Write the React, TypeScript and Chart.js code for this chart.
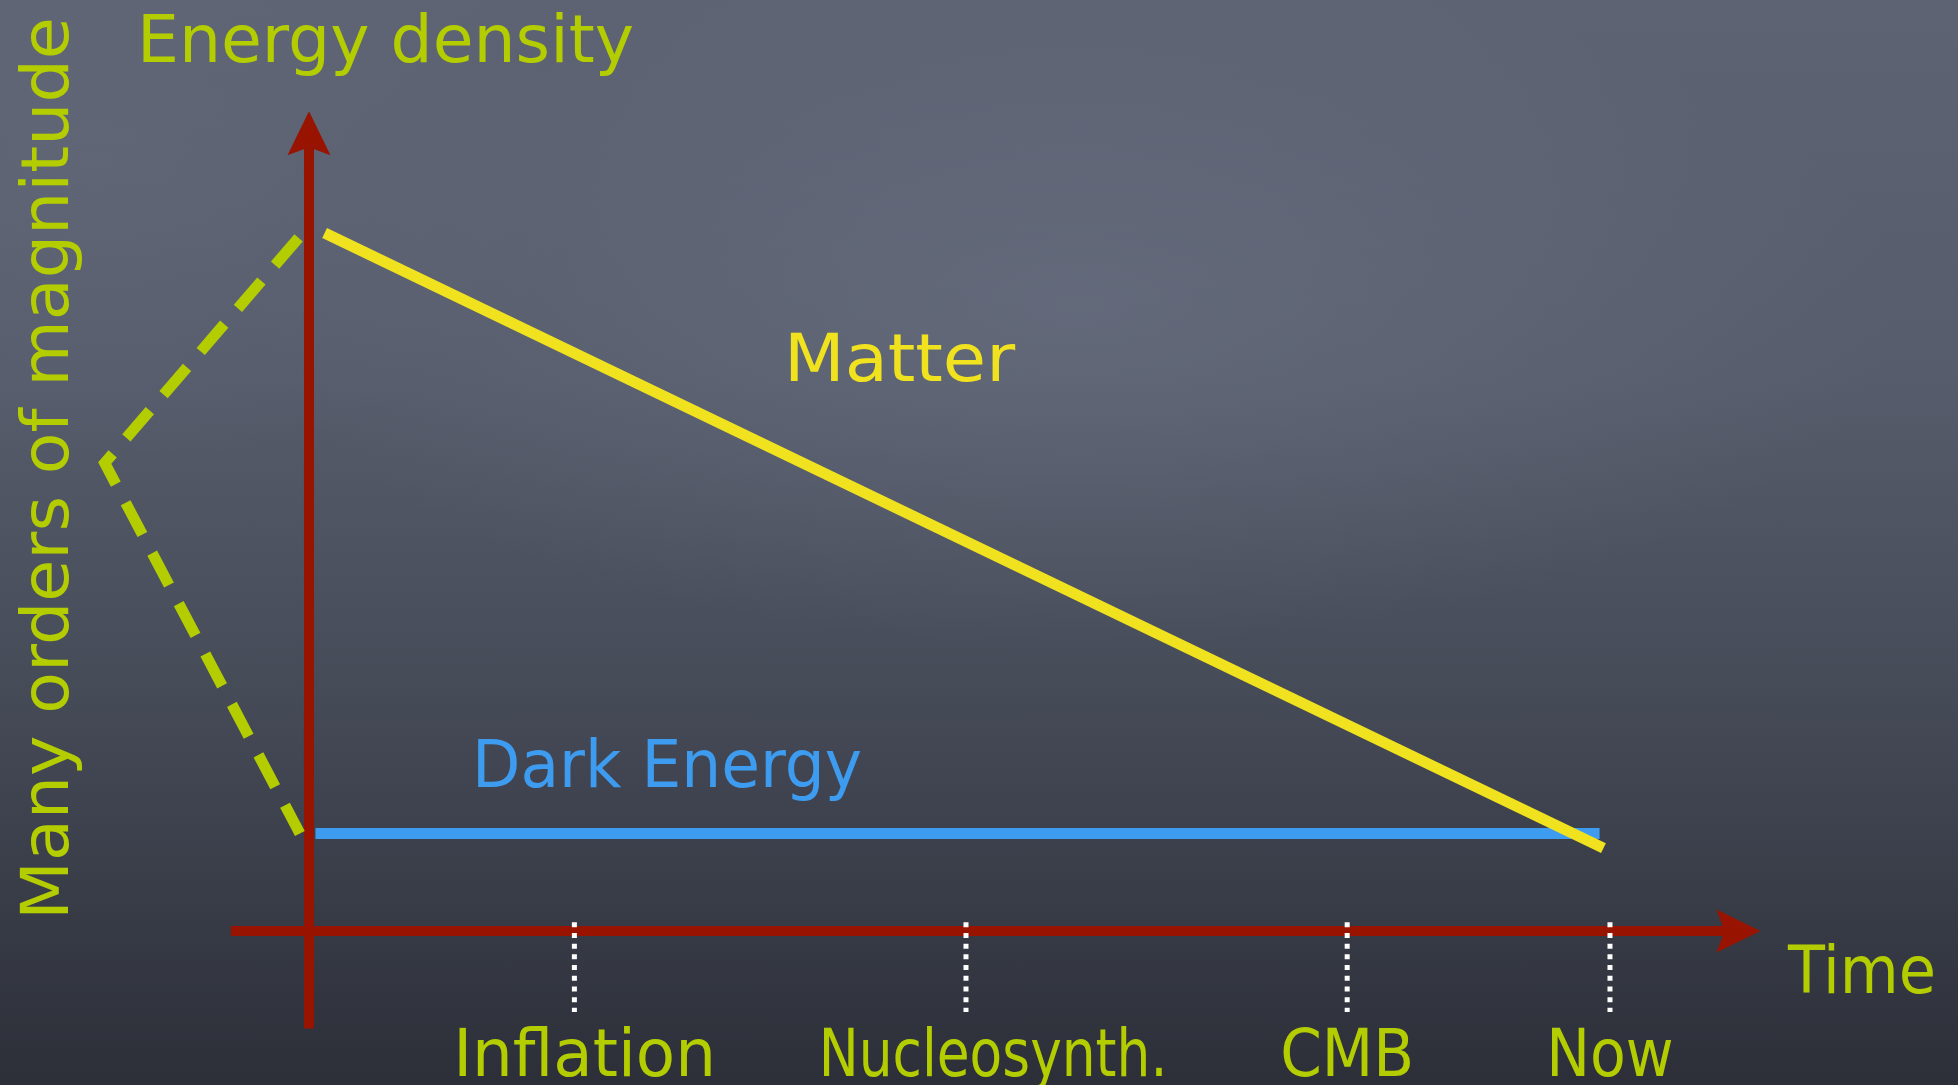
import React, { useEffect, useRef } from "react";
import { Chart, registerables } from "chart.js";

Chart.register(...registerables);

// Horizontal scale: cosmic time in arbitrary units (origin 0, "Now" = 10)
const timeRange = [-2.375, 12.675];
// Vertical scale: log energy density in arbitrary units (dark energy = 1)
const densityRange = [-1.579, 9.549];

// Epoch markers on the time axis
const epochLabels = ["Inflation", "Nucleosynth.", "CMB", "Now"];
const epochTimes = [2.04, 5.05, 7.98, 10];
const epochLabelTimes = [2.118, 5.258, 7.98, 10];
const epochMarkTop = 0.09;
const epochMarkBottom = -0.83;
const epochLabelDensity = -1.487;
const epochLabelWidths = [2.02, 2.68, 1.03, 0.98];

// Matter energy density (falls with time)
const matterTimes = [0.12, 9.95];
const matterDensity = [7.16, 0.85];

// Dark energy density (constant)
const darkEnergyTimes = [0.05, 9.92];
const darkEnergyDensity = [1, 1];

// "Many orders of magnitude" bracket
const spreadTimes = [-0.08, -1.57, -0.07];
const spreadDensity = [7.11, 4.8, 1.0];

// Axes extents
const timeAxisTimes = [-0.6, 10.88];
const densityAxisValues = [-1.0, 8.04];

const GREEN = "#b3cd00";
const YELLOW = "#f0e21e";
const BLUE = "#3d9cf0";
const RED = "#981400";
const WHITE = "#ffffff";
const FONT = '66px "DejaVu Sans"';

type Label = {
  text: string;
  x: number;
  y: number;
  size: number; // target extent in data units along the text direction
  color: string;
  align: "left" | "center";
  vertical?: boolean;
};

const textLabels: Label[] = [
  { text: "Energy density", x: -1.322, y: 8.913, size: 3.82, color: GREEN, align: "left" },
  { text: "Many orders of magnitude", x: -1.852, y: 0.113, size: 9.26, color: GREEN, align: "left", vertical: true },
  { text: "Matter", x: 3.651, y: 5.641, size: 1.776, color: YELLOW, align: "left" },
  { text: "Dark Energy", x: 1.253, y: 1.477, size: 2.998, color: BLUE, align: "left" },
  { text: "Time", x: 11.368, y: -0.636, size: 1.138, color: GREEN, align: "left" },
  ...epochLabels.map((t, i) => ({
    text: t,
    x: epochLabelTimes[i],
    y: epochLabelDensity,
    size: epochLabelWidths[i],
    color: GREEN,
    align: "center" as const,
  })),
];

const pts = (xs: number[], ys: number[]) => xs.map((x, i) => ({ x, y: ys[i] }));

const arrowPlugin = {
  id: "arrowHeads",
  afterDatasetsDraw(chart: any) {
    const ctx = chart.ctx;
    chart.data.datasets.forEach((ds: any, i: number) => {
      if (!ds.arrow) return;
      const meta = chart.getDatasetMeta(i);
      const n = meta.data.length;
      const a = meta.data[n - 2];
      const b = meta.data[n - 1];
      let dx = b.x - a.x;
      let dy = b.y - a.y;
      const len = Math.hypot(dx, dy) || 1;
      dx /= len;
      dy /= len;
      const nx = -dy;
      const ny = dx;
      const tip = 36, back = 8, half = 21.5;
      ctx.save();
      ctx.fillStyle = ds.borderColor;
      ctx.beginPath();
      ctx.moveTo(b.x + dx * tip, b.y + dy * tip);
      ctx.lineTo(b.x - dx * back + nx * half, b.y - dy * back + ny * half);
      ctx.lineTo(b.x, b.y);
      ctx.lineTo(b.x - dx * back - nx * half, b.y - dy * back - ny * half);
      ctx.closePath();
      ctx.fill();
      ctx.restore();
    });
  },
};

const textPlugin = {
  id: "chalkText",
  afterDatasetsDraw(chart: any) {
    const ctx = chart.ctx;
    const xs = chart.scales.x;
    const ys = chart.scales.y;
    textLabels.forEach((l) => {
      const px = xs.getPixelForValue(l.x);
      const py = ys.getPixelForValue(l.y);
      const target = l.vertical
        ? Math.abs(ys.getPixelForValue(l.y + l.size) - py)
        : Math.abs(xs.getPixelForValue(l.x + l.size) - px);
      ctx.save();
      ctx.font = FONT;
      ctx.fillStyle = l.color;
      ctx.textAlign = "left";
      ctx.textBaseline = "alphabetic";
      const w = ctx.measureText(l.text).width;
      const k = target / w;
      ctx.translate(px, py);
      if (l.vertical) ctx.rotate(-Math.PI / 2);
      ctx.scale(k, 1);
      ctx.fillText(l.text, l.align === "center" ? -w / 2 : 0, 0);
      ctx.restore();
    });
  },
};

export default function App() {
  const ref = useRef<HTMLCanvasElement | null>(null);

  useEffect(() => {
    if (!ref.current) return;
    const line = (extra: any) => ({
      showLine: true,
      pointRadius: 0,
      pointHoverRadius: 0,
      fill: false,
      tension: 0,
      borderCapStyle: "butt",
      borderJoinStyle: "miter",
      ...extra,
    });

    const datasets: any[] = [
      ...epochTimes.map((t) =>
        line({
          label: "epoch",
          data: pts([t, t], [epochMarkTop, epochMarkBottom]),
          borderColor: WHITE,
          borderWidth: 5,
          borderDash: [5, 5.7],
          order: 0,
        })
      ),
      line({
        label: "Matter",
        data: pts(matterTimes, matterDensity),
        borderColor: YELLOW,
        borderWidth: 11,
        order: 1,
      }),
      line({
        label: "Dark Energy",
        data: pts(darkEnergyTimes, darkEnergyDensity),
        borderColor: BLUE,
        borderWidth: 11,
        order: 2,
      }),
      line({
        label: "Spread",
        data: pts(spreadTimes, spreadDensity),
        borderColor: GREEN,
        borderWidth: 11,
        borderDash: [36, 21],
        order: 3,
      }),
      line({
        label: "Density axis",
        data: pts([0, 0], densityAxisValues),
        borderColor: RED,
        borderWidth: 10,
        arrow: true,
        order: 4,
      }),
      line({
        label: "Time axis",
        data: pts(timeAxisTimes, [0, 0]),
        borderColor: RED,
        borderWidth: 10,
        arrow: true,
        order: 4,
      }),
    ];

    const chart = new Chart(ref.current, {
      type: "scatter",
      data: { datasets },
      options: {
        animation: false,
        responsive: false,
        devicePixelRatio: 1,
        layout: { padding: 0 },
        scales: {
          x: { type: "linear", min: timeRange[0], max: timeRange[1], display: false },
          y: { type: "linear", min: densityRange[0], max: densityRange[1], display: false },
        },
        plugins: {
          legend: { display: false },
          tooltip: { enabled: false },
        },
        events: [],
      } as any,
      plugins: [arrowPlugin, textPlugin],
    });
    return () => chart.destroy();
  }, []);

  return (
    <div
      style={{
        position: "fixed",
        left: 0,
        top: 0,
        width: 1958,
        height: 1085,
        overflow: "hidden",
        background:
          "radial-gradient(ellipse 60% 45% at 55% 28%, rgba(112,120,138,0.45), rgba(112,120,138,0) 70%), radial-gradient(ellipse 35% 40% at 5% 15%, rgba(105,112,128,0.35), rgba(105,112,128,0) 70%), linear-gradient(180deg, #5d6373 0%, #565c6b 35%, #474c59 62%, #393d48 82%, #2c2f38 100%)",
      }}
    >
      <canvas ref={ref} width={1958} height={1085} style={{ display: "block" }} />
    </div>
  );
}
